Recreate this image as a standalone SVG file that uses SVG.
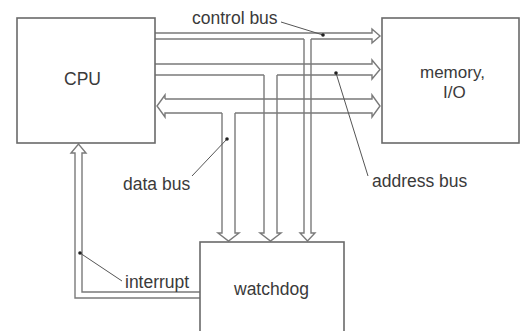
<svg xmlns="http://www.w3.org/2000/svg" width="520" height="331" viewBox="0 0 520 331">
  <style>
    .box { fill: #ffffff; stroke: #6a6a6a; stroke-width: 1.6; }
    .bus { fill: none; stroke: #7a7a7a; stroke-width: 1.4; stroke-linejoin: miter; }
    .lead { fill: none; stroke: #555555; stroke-width: 1; }
    .dot { fill: #222222; }
    .lbl { font-family: "Liberation Sans", Arial, sans-serif; font-size: 17.5px; fill: #3a3a3a; }
    .sm { font-size: 17px; }
  </style>
  <rect width="520" height="331" fill="#ffffff"/>

  <!-- buses: hollow double-line arrows -->
  <g id="connectors">
    <!-- control bus: CPU to memory, branch down to watchdog -->
    <g id="control-bus" class="bus">
      <path d="M155,33 H372 V29 L380,36 L372,43 V39 H311"/>
      <path d="M155,39 H304"/>
      <path d="M304,39 V233 H300 L307.5,241 L315,233 H311 V39"/>
    </g>
    <!-- address bus: CPU to memory, branch down to watchdog -->
    <g id="address-bus" class="bus">
      <path d="M155,64 H372 V60 L380,69.5 L372,79 V75 H277"/>
      <path d="M155,75 H264"/>
      <path d="M264,75 V233 H260 L270.5,241 L281,233 H277 V75"/>
    </g>
    <!-- data bus: bidirectional CPU/memory, branch down to watchdog -->
    <g id="data-bus" class="bus">
      <path d="M165,99 H372 V95 L380,106 L372,117 V113 H235"/>
      <path d="M165,99 V95 L157,106 L165,117 V113 H222"/>
      <path d="M222,113 V233 H218 L228.5,241 L239,233 H235 V113"/>
    </g>
    <!-- interrupt: watchdog to CPU -->
    <g id="interrupt-line" class="bus">
      <path d="M200,298 H75 V153 H71 L78.5,144 L86,153 H82 V292 H200"/>
    </g>

    <!-- label leaders -->
    <g id="leaders">
      <path class="lead" d="M281,22 L323,35"/>
      <circle class="dot" cx="323" cy="35" r="1.8"/>
      <path class="lead" d="M336,73 L368,176"/>
      <circle class="dot" cx="336" cy="73" r="1.8"/>
      <path class="lead" d="M227,139 L192,176"/>
      <circle class="dot" cx="227" cy="139" r="1.8"/>
      <path class="lead" d="M80,253 L122,281"/>
      <circle class="dot" cx="80" cy="253" r="1.8"/>
    </g>
  </g>

  <g id="cpu">
    <rect class="box" x="17" y="18" width="138" height="125"/>
    <text class="lbl" x="64" y="85">CPU</text>
  </g>

  <g id="memory">
    <rect class="box" x="382" y="18" width="137" height="125"/>
    <text class="lbl sm" x="420" y="78">memory,</text>
    <text class="lbl sm" x="443" y="98">I/O</text>
  </g>

  <g id="watchdog">
    <rect class="box" x="200" y="242" width="144" height="100"/>
    <text class="lbl" x="234" y="295">watchdog</text>
  </g>

  <g id="labels">
    <text class="lbl" x="192" y="24">control bus</text>
    <text class="lbl" x="372" y="187">address bus</text>
    <text class="lbl" x="123" y="190">data bus</text>
    <text class="lbl" x="125" y="288">interrupt</text>
  </g>
</svg>
